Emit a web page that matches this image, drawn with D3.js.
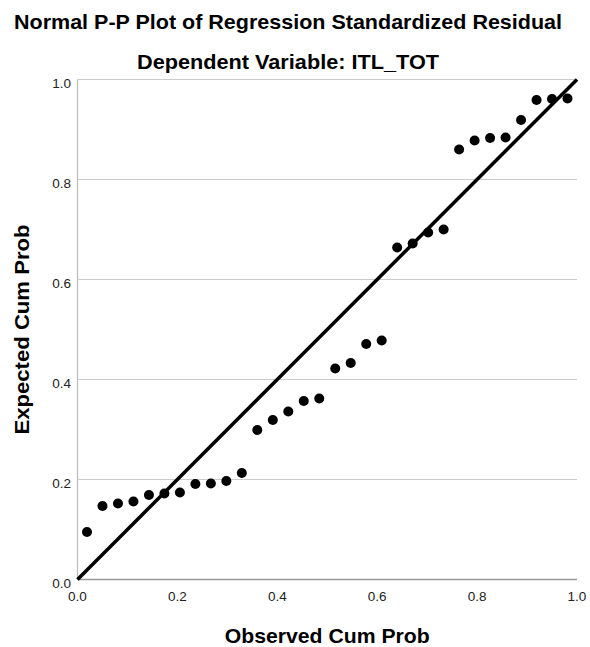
<!DOCTYPE html>
<html>
<head>
<meta charset="utf-8">
<script src="https://cdn.jsdelivr.net/npm/d3@7"></script>
<style>
  body { margin: 0; background: #fff; }
  text { font-family: "Liberation Sans", Arial, sans-serif; }
</style>
</head>
<body>
<div id="chart"></div>
<script>
// observed cumulative probability (x) and expected cumulative probability (y)
const observed = [0.019, 0.050, 0.081, 0.112, 0.143, 0.174, 0.205, 0.236, 0.267, 0.298,
  0.329, 0.360, 0.391, 0.422, 0.453, 0.484, 0.516, 0.547, 0.578, 0.609,
  0.640, 0.671, 0.702, 0.733, 0.764, 0.795, 0.826, 0.857, 0.888, 0.919, 0.950, 0.981];
const expected = [0.095, 0.147, 0.152, 0.156, 0.169, 0.172, 0.174, 0.191, 0.192, 0.197,
  0.213, 0.299, 0.319, 0.336, 0.357, 0.362, 0.422, 0.433, 0.471, 0.478,
  0.664, 0.672, 0.694, 0.700, 0.860, 0.878, 0.883, 0.884, 0.919, 0.959, 0.961, 0.962];
const ticks = [0, 0.2, 0.4, 0.6, 0.8, 1.0];

const width = 590, height = 647;
const margin = { top: 79.5, right: 13, bottom: 67.5, left: 77.5 };

const svg = d3.select("#chart")
  .append("svg")
  .attr("width", width)
  .attr("height", height);

const x = d3.scaleLinear().domain([0, 1]).range([margin.left, width - margin.right]);
const y = d3.scaleLinear().domain([0, 1]).range([height - margin.bottom, margin.top]);

// gridlines
svg.append("g")
  .selectAll("line")
  .data(ticks.slice(1))
  .join("line")
  .attr("x1", x(0)).attr("x2", x(1))
  .attr("y1", d => y(d)).attr("y2", d => y(d))
  .attr("stroke", "#cccccc")
  .attr("stroke-width", 1.2);

// left axis
svg.append("line")
  .attr("x1", x(0)).attr("x2", x(0))
  .attr("y1", y(0)).attr("y2", y(1))
  .attr("stroke", "#bbbbbb")
  .attr("stroke-width", 1.2);

// bottom axis
svg.append("line")
  .attr("x1", x(0)).attr("x2", x(1))
  .attr("y1", y(0)).attr("y2", y(0))
  .attr("stroke", "#999999")
  .attr("stroke-width", 1.5);

// tick labels
svg.append("g")
  .selectAll("text")
  .data(ticks)
  .join("text")
  .attr("x", 71)
  .attr("y", d => y(d) + 8)
  .attr("text-anchor", "end")
  .attr("font-size", 13.5)
  .attr("fill", "#222")
  .text(d => d3.format(".1f")(d));

svg.append("g")
  .selectAll("text")
  .data(ticks)
  .join("text")
  .attr("x", d => x(d))
  .attr("y", 601)
  .attr("text-anchor", "middle")
  .attr("font-size", 13.5)
  .attr("fill", "#222")
  .text(d => d3.format(".1f")(d));

// reference diagonal
svg.append("line")
  .attr("x1", x(0)).attr("y1", y(0))
  .attr("x2", x(1)).attr("y2", y(1))
  .attr("stroke", "#000")
  .attr("stroke-width", 3.5);

// points
svg.append("g")
  .selectAll("circle")
  .data(observed.map((o, i) => ({ o, e: expected[i] })))
  .join("circle")
  .attr("cx", d => x(d.o))
  .attr("cy", d => y(d.e))
  .attr("r", 5)
  .attr("fill", "#000");

// titles
function title(txt, len) {
  return svg.append("text")
    .attr("text-anchor", "middle")
    .attr("font-size", 20.5)
    .attr("font-weight", "bold")
    .attr("textLength", len)
    .attr("lengthAdjust", "spacingAndGlyphs")
    .text(txt);
}

title("Normal P-P Plot of Regression Standardized Residual", 548)
  .attr("x", 288).attr("y", 29);

title("Dependent Variable: ITL_TOT", 302)
  .attr("x", 288).attr("y", 69);

title("Observed Cum Prob", 205)
  .attr("x", (x(0) + x(1)) / 2).attr("y", 643);

title("Expected Cum Prob", 210)
  .attr("transform", `translate(29,${(y(0) + y(1)) / 2}) rotate(-90)`);
</script>
</body>
</html>
